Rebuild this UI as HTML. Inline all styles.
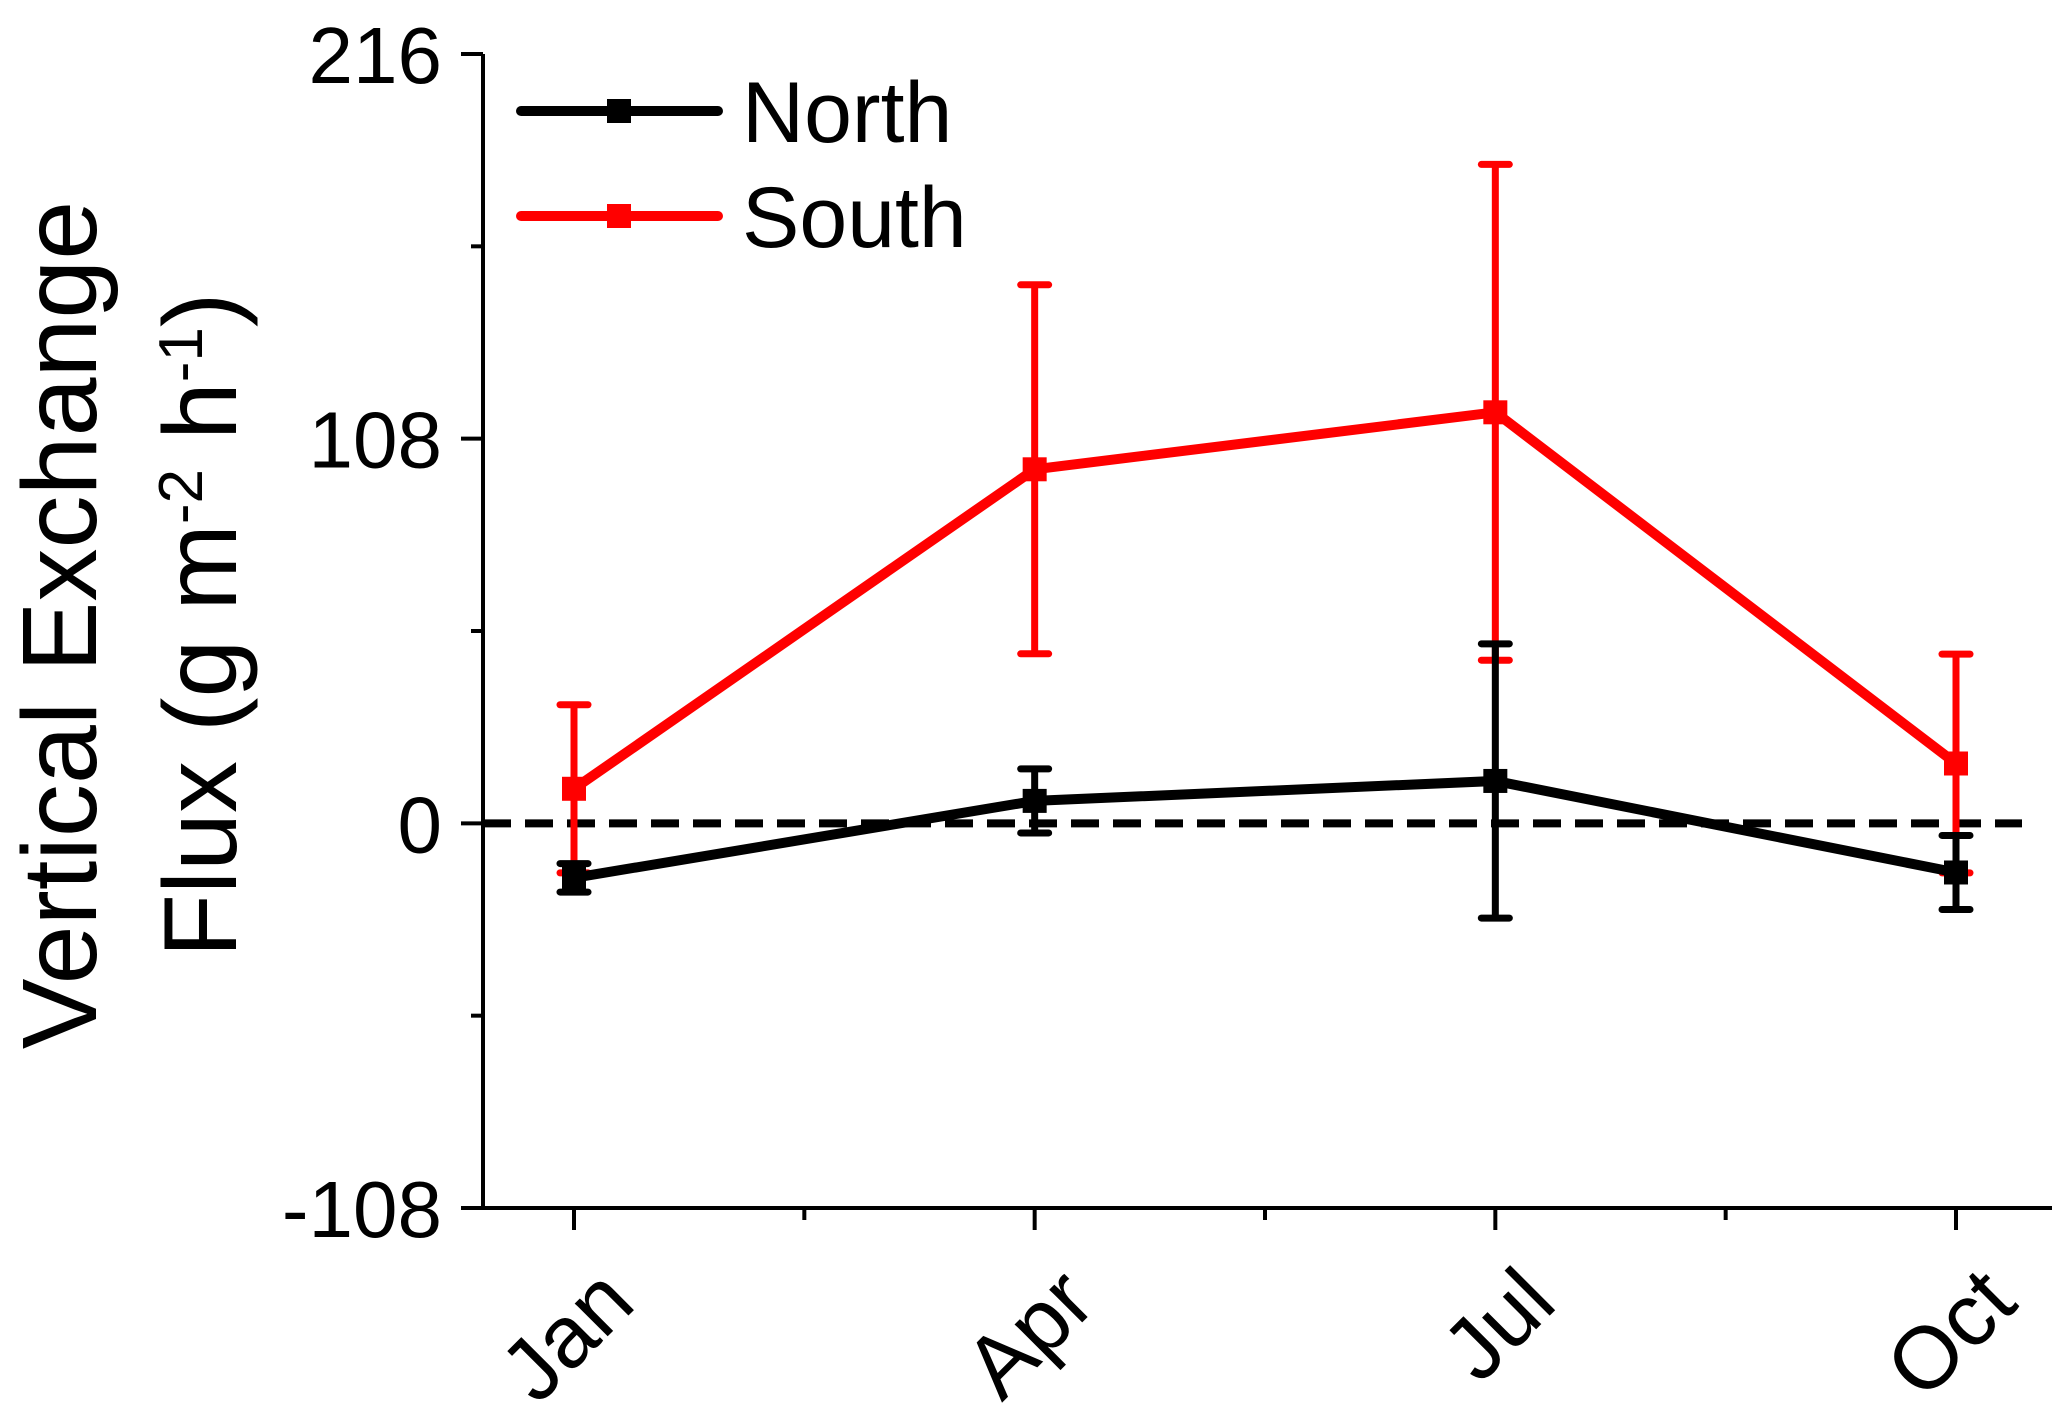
<!DOCTYPE html>
<html><head><meta charset="utf-8"><style>
html,body{margin:0;padding:0;background:#fff;}
svg{display:block;font-family:"Liberation Sans",Arial,sans-serif;}
</style></head><body>
<svg id="chart" width="2067" height="1423" viewBox="0 0 2067 1423" xmlns="http://www.w3.org/2000/svg">
<g id="axes"></g>
<g id="series"></g>
<g id="legend"></g>
</svg>
<script>
const categories = ["Jan","Apr","Jul","Oct"];
const northValues = [-15.3, 6.3, 11.9, -13.8];
const northErrors = [4, 9, 38.5, 10.4];
const southValues = [9.7, 99.4, 115.4, 16.8];
const southErrors = [23.6, 51.8, 69.6, 30.7];
const yTicks = [216, 108, 0, -108];
const yMinorTicks = [162, 54, -54];

const NS = "http://www.w3.org/2000/svg";
const X0 = 483, XR = 2052, Y0 = 54, YB = 1208;
const yMin = -108, yMax = 216;
function ys(v){ return YB - (v - yMin) / (yMax - yMin) * (YB - Y0); }
function xs(i){ return 574 + i * (1956 - 574) / (categories.length - 1); }
function mk(tag, attrs, parent){
  const e = document.createElementNS(NS, tag);
  for (const k in attrs) e.setAttribute(k, attrs[k]);
  parent.appendChild(e); return e;
}
const axes = document.getElementById("axes");
const series = document.getElementById("series");
const legend = document.getElementById("legend");

let a = mk("line",{x1:X0,y1:Y0,x2:X0,y2:YB+2,stroke:"#000","stroke-width":4},axes);


a = mk("line",{x1:X0-2,y1:YB,x2:XR,y2:YB,stroke:"#000","stroke-width":4},axes);



yTicks.forEach(v=>{
  const y = ys(v);
  const t = mk("line",{x1:X0-22,y1:y,x2:X0,y2:y,stroke:"#000","stroke-width":4},axes);
  
  
  const l = mk("text",{x:442,y:y+29,"text-anchor":"end","font-size":80,fill:"#000"},axes);
  l.textContent = v;
  
  
});
yMinorTicks.forEach(v=>{
  const y = ys(v);
  const t = mk("line",{x1:X0-12,y1:y,x2:X0,y2:y,stroke:"#000","stroke-width":4},axes);
  
  
});
categories.forEach((c,i)=>{
  const x = xs(i);
  const t = mk("line",{x1:x,y1:YB,x2:x,y2:YB+22,stroke:"#000","stroke-width":4},axes);
  
  
  if (i < categories.length - 1) {
    const xm = (xs(i)+xs(i+1))/2;
    const m = mk("line",{x1:xm,y1:YB,x2:xm,y2:YB+12,stroke:"#000","stroke-width":4},axes);
    
    
  }
  const l = mk("text",{x:x+64,y:YB+98,"text-anchor":"end","font-size":88,fill:"#000",transform:`rotate(-45 ${x+64} ${YB+98})`},axes);
  l.textContent = c;
  
  
});
const t1 = mk("text",{x:0,y:0,"text-anchor":"middle","font-size":106,fill:"#000",transform:"translate(96,625) rotate(-90)"},axes);
t1.textContent = "Vertical Exchange";


const t2 = mk("text",{x:0,y:0,"text-anchor":"middle","font-size":104,fill:"#000",transform:"translate(236,625) rotate(-90)"},axes);
t2.innerHTML = 'Flux (g m<tspan baseline-shift="super" font-size="62">-2</tspan> h<tspan baseline-shift="super" font-size="62">-1</tspan>)';


const z = mk("line",{x1:X0,y1:ys(0),x2:XR-30,y2:ys(0),stroke:"#000","stroke-width":8,"stroke-dasharray":"28,14"},axes);



function drawSeries(vals, errs, color, name){
  const g = mk("g",{},series);
  
  
  vals.forEach((v,i)=>{
    const x = xs(i);
    const e = mk("line",{x1:x,y1:ys(v+errs[i]),x2:x,y2:ys(v-errs[i]),stroke:color,"stroke-width":7},g);
    
    
    [v+errs[i], v-errs[i]].forEach(ev=>{
      const c = mk("line",{x1:x-14,y1:ys(ev),x2:x+14,y2:ys(ev),stroke:color,"stroke-width":7,"stroke-linecap":"round"},g);
      
      
    });
  });
  const pl = mk("polyline",{points:vals.map((v,i)=>xs(i)+","+ys(v)).join(" "),fill:"none",stroke:color,"stroke-width":10},g);
  
  
  vals.forEach((v,i)=>{
    const r = mk("rect",{x:xs(i)-12,y:ys(v)-12,width:24,height:24,fill:color},g);
    
    
  });
}
drawSeries(southValues, southErrors, "#ff0000", "south");
drawSeries(northValues, northErrors, "#000000", "north");

[["North","#000",111],["South","#ff0000",216]].forEach(([n,c,y])=>{
  const g = mk("g",{},legend);
  
  
  mk("line",{x1:521,y1:y,x2:718,y2:y,stroke:c,"stroke-width":10,"stroke-linecap":"round"},g);
  mk("rect",{x:607,y:y-12,width:24,height:24,fill:c},g);
  const tx = mk("text",{x:742,y:y+31,"font-size":86,fill:"#000"},g);
  tx.textContent = n;
});
</script>
</body></html>
